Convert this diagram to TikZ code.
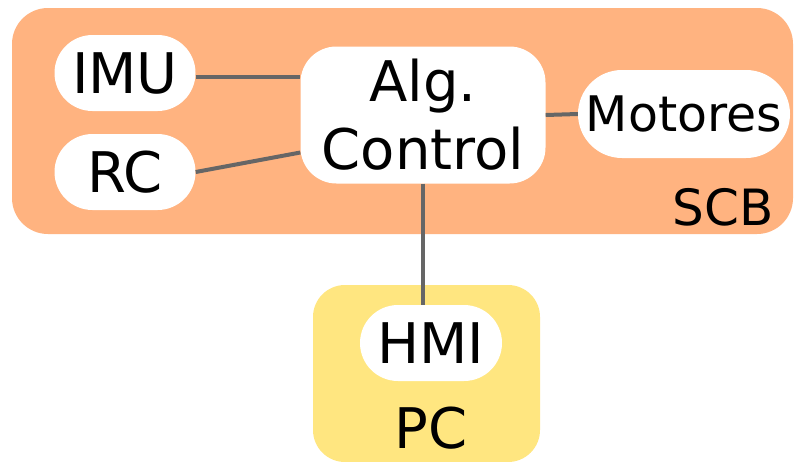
\documentclass[tikz,border=0pt]{standalone}
\usepackage{fontspec}
\setmainfont{DejaVu Sans}
\usetikzlibrary{positioning}
\definecolor{scbbox}{HTML}{FFB380}
\definecolor{pcbox}{HTML}{FFE680}
\definecolor{edge}{HTML}{666666}
\tikzset{
  n/.style={fill=white, inner sep=0pt, align=center, font=\fontsize{56}{68}\selectfont},
  pill/.style={n, minimum width=141pt, minimum height=76pt, rounded corners=38pt},
  grp/.style={inner sep=0pt, rounded corners=36pt},
  tag/.style={inner sep=0pt, font=\fontsize{50}{60}\selectfont},
  l/.style={draw=edge, line width=4pt},
}
\begin{document}
\begin{tikzpicture}[x=1pt, y=-1pt]
\clip (0,0) rectangle (794,461);
\fill[white] (0,0) rectangle (794,461);

% ---- groups ----
\node[grp, fill=scbbox, minimum width=781pt, minimum height=226pt] (scb) at (402.5,121) {};
\node[grp, fill=pcbox, rounded corners=32pt, minimum width=227pt, minimum height=177pt] (pc) at (426.5,373.5) {};
\node[tag] (scblbl) at (723,207) {SCB};
\node[tag, font=\fontsize{56}{68}\selectfont] (pclbl) at (431,428) {PC};

% ---- blocks ----
\node[pill] (imu) at (125,73)  {IMU};
\node[pill] (rc)  at (125,172) {RC};
\node[n, minimum width=245pt, minimum height=137pt, rounded corners=36pt] (alg) at (423,115) {Alg.\\Control};
\node[pill, minimum width=212pt, minimum height=88pt, rounded corners=44pt,
      font=\fontsize{49}{60}\selectfont] (mot) at (684,114) {Motores};
\node[pill, minimum width=142pt] (hmi) at (431,343) {HMI};

% ---- edges ----
\draw[l] (imu.east |- alg.163) -- (alg.163);
\draw[l] (rc.east) -- (alg.197);
\draw[l] (alg.east) -- (mot.west);
\draw[l] (alg.south) -- (alg.south |- hmi.north);
\end{tikzpicture}
\end{document}
